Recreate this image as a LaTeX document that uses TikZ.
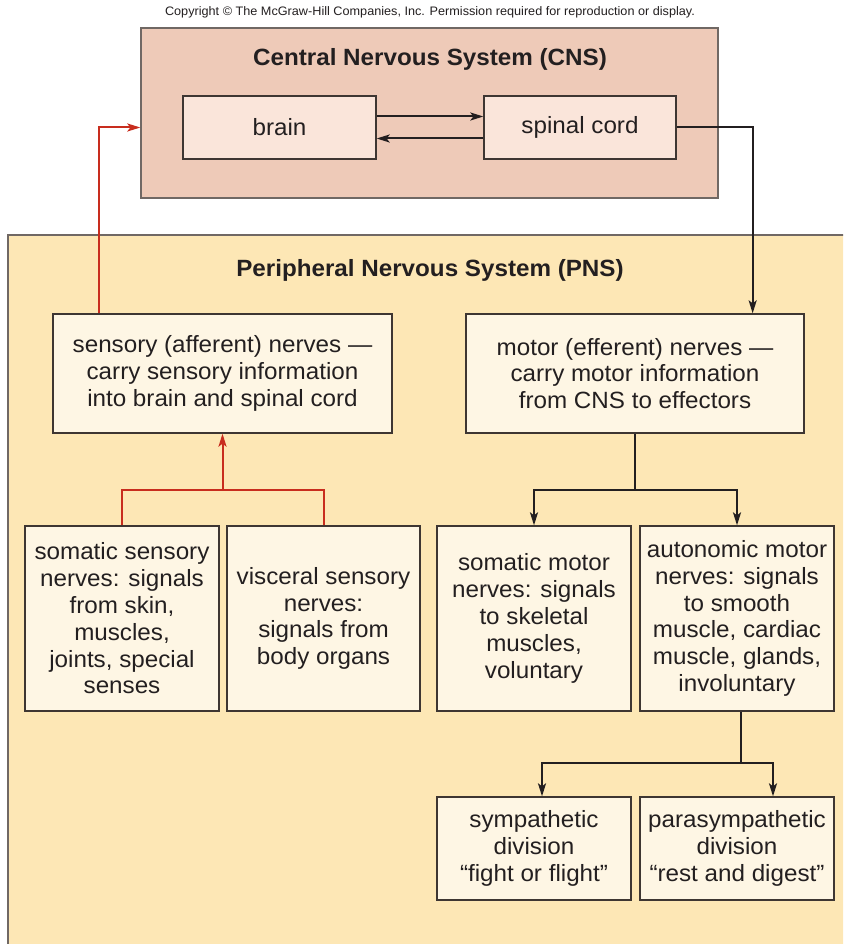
\documentclass[tikz,border=0pt]{standalone}
\usepackage{fontspec}
\setmainfont{Liberation Sans}[FakeStretch=1.03]
\usetikzlibrary{arrows.meta,calc}
\definecolor{cnsfill}{RGB}{238,202,184}
\definecolor{cnsinner}{RGB}{250,229,218}
\definecolor{pnsfill}{RGB}{253,231,181}
\definecolor{pnsinner}{RGB}{254,246,228}
\definecolor{bordergray}{RGB}{112,104,100}
\definecolor{boxline}{RGB}{62,54,50}
\definecolor{txt}{RGB}{35,31,32}
\definecolor{redline}{RGB}{200,45,30}
\tikzset{
  every node/.style={text=txt},
  bigbox/.style={draw=bordergray, line width=1.4pt, rectangle, inner sep=0pt},
  cnsbox/.style={draw=boxline, line width=1.3pt, fill=cnsinner, rectangle, inner sep=0pt,
    minimum height=63pt, font=\fontsize{23.5}{26.5}\selectfont},
  pnsbox/.style={draw=boxline, line width=1.3pt, fill=pnsinner, rectangle, inner sep=0pt,
    align=center, font=\fontsize{23.5}{26.8}\selectfont},
  titletext/.style={font=\fontsize{23.5}{26}\selectfont\bfseries},
  conn/.style={draw=txt, line width=2pt, -{Stealth[length=13pt,width=8pt,inset=3pt]}},
  connplain/.style={draw=txt, line width=2pt},
  redconn/.style={draw=redline, line width=2pt, -{Stealth[length=13pt,width=8pt,inset=3pt]}},
  redplain/.style={draw=redline, line width=2pt},
}
\begin{document}
\begin{tikzpicture}[x=1pt,y=-1pt]
\useasboundingbox (0,0) rectangle (843,944);
\fill[white] (0,0) rectangle (843,944);
\clip (0,0) rectangle (843,944);

\node (copy) at (430,12) {\fontsize{12.3}{14}\selectfont Copyright \textcopyright{} The McGraw-Hill Companies, Inc. Permission required for reproduction or display.};

% CNS
\node[bigbox, fill=cnsfill, minimum width=577pt, minimum height=170pt] (cns) at (429.5,113) {};
\node[titletext] (cnstitle) at (430,59) {Central Nervous System (CNS)};
\node[cnsbox, minimum width=193pt] (brain) at (279.5,127.5) {brain};
\node[cnsbox, minimum width=192pt] (spinal) at (580,127.5) {spinal cord};

% PNS
\node[bigbox, fill=pnsfill, minimum width=862pt, minimum height=735pt] (pns) at (439,602.5) {};
\node[titletext] (pnstitle) at (430,270) {Peripheral Nervous System (PNS)};

\node[pnsbox, minimum width=339pt, minimum height=119pt] (sensory) at (222.5,373.5)
  {sensory (afferent) nerves —\\carry sensory information\\into brain and spinal cord};
\node[pnsbox, minimum width=338pt, minimum height=119pt] (motor) at (635,373.5)
  {motor (efferent) nerves —\\carry motor information\\from CNS to effectors};

\node[pnsbox, minimum width=194pt, minimum height=185pt] (somsens) at (122,618.5)
  {somatic sensory\\nerves: signals\\from skin,\\muscles,\\joints, special\\senses};
\node[pnsbox, minimum width=193pt, minimum height=185pt] (visc) at (323.5,618.5)
  {visceral sensory\\nerves:\\signals from\\body organs};
\node[pnsbox, minimum width=194pt, minimum height=185pt] (sommot) at (534,618.5)
  {somatic motor\\nerves: signals\\to skeletal\\muscles,\\voluntary};
\node[pnsbox, minimum width=194pt, minimum height=185pt] (auto) at (737,618.5)
  {autonomic motor\\nerves: signals\\to smooth\\muscle, cardiac\\muscle, glands,\\involuntary};

\node[pnsbox, minimum width=194pt, minimum height=103pt] (symp) at (534,848.5)
  {sympathetic\\division\\“fight or flight”};
\node[pnsbox, minimum width=194pt, minimum height=103pt] (para) at (737,848.5)
  {parasympathetic\\division\\“rest and digest”};

% CNS internal arrows
\draw[conn] ($(brain.east)+(0,-11)$) -- ($(spinal.west)+(0,-11)$);
\draw[conn] ($(spinal.west)+(0,11)$) -- ($(brain.east)+(0,11)$);

% sensory to CNS (red)
\draw[redconn] ($(sensory.north west)+(47,0)$) |- (cns.west |- brain.west);
% CNS to motor
\draw[conn] (spinal.east) -| ($(motor.north east)+(-52,0)$);

% sensory tree
\coordinate (rj) at ($(sensory.south)+(0,56)$);
\draw[redplain] (somsens.north) |- (rj) -| (visc.north);
\draw[redconn] (rj) -- (sensory.south);

% motor tree
\coordinate (mj) at ($(motor.south)+(0,56)$);
\draw[connplain] (motor.south) -- (mj);
\draw[conn] (mj) -| (sommot.north);
\draw[conn] (mj) -| (auto.north);

% autonomic tree
\coordinate (aj) at ($(auto.south)+(4,51)$);
\draw[connplain] ($(auto.south)+(4,0)$) -- (aj);
\draw[conn] (aj) -| ($(symp.north)+(8,0)$);
\draw[conn] (aj) -| ($(para.north)+(36,0)$);
\end{tikzpicture}
\end{document}
